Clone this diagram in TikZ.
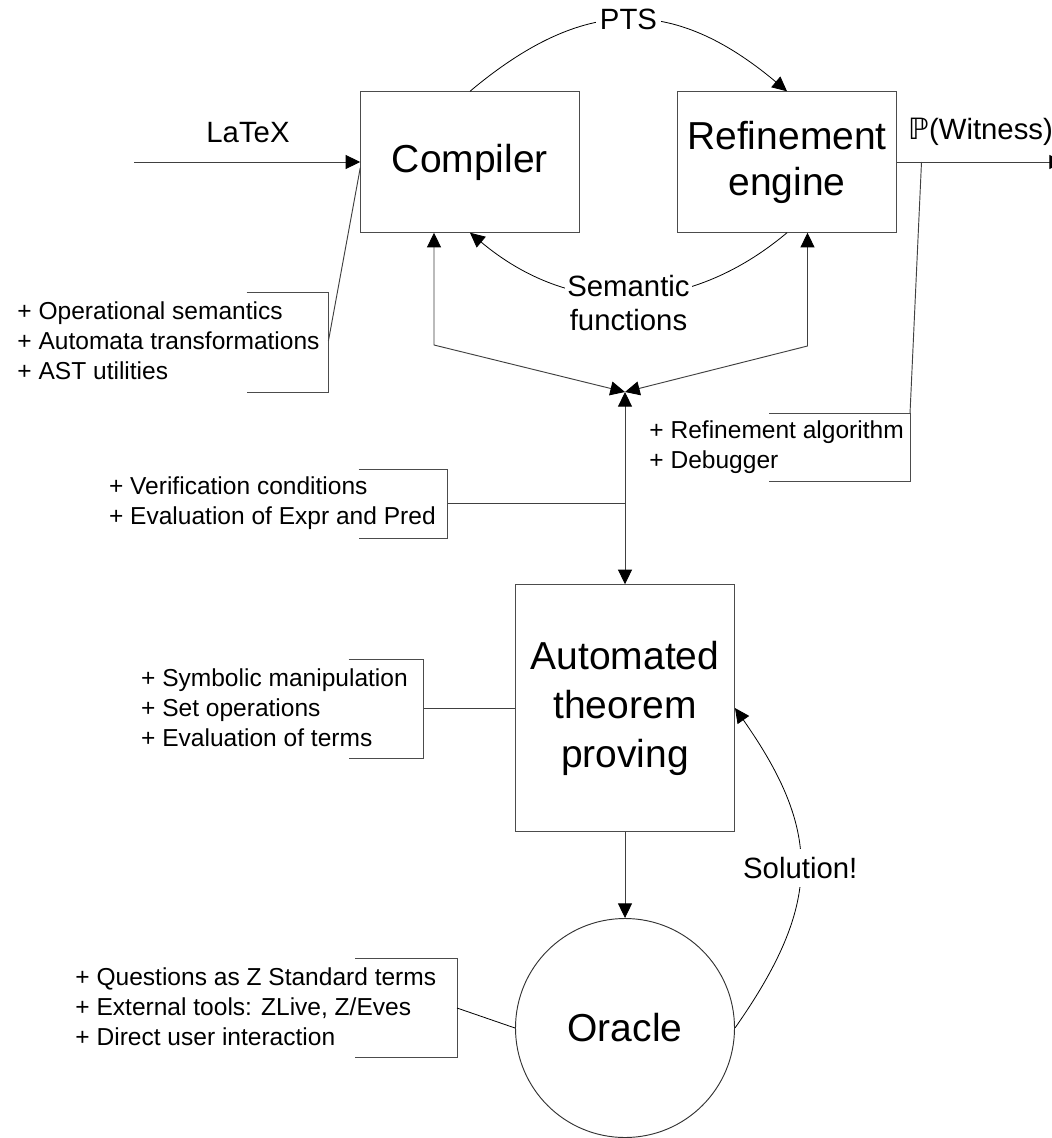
\documentclass[tikz,border=0pt]{standalone}
\usepackage{fontspec}
\setmainfont{Liberation Sans}
\newfontfamily\dejavu{DejaVu Sans}
\usetikzlibrary{arrows.meta}
\begin{document}
\begin{tikzpicture}[x=0.75pt,y=0.75pt,
  line width=0.7pt,
  >={Triangle[length=11pt,width=10.5pt,color=black]},
  bigtext/.style={font=\fontsize{29.25pt}{34.5pt}\selectfont},
  midtext/.style={font=\fontsize{22pt}{26pt}\selectfont},
  smalltext/.style={font=\fontsize{18.4pt}{22.5pt}\selectfont, anchor=west, align=left, inner sep=0pt},
  block/.style={draw=black!70, rectangle, inner sep=0pt, align=center, bigtext},
  conn/.style={draw=black!75},
  curve/.style={draw=black, line width=0.6pt},
  brace/.style={draw=black!70},
  lbl/.style={fill=white, inner sep=3pt, midtext, align=center}]

\path[use as bounding box, fill=white] (0,0) rectangle (1051,-1138);

% main blocks
\node[block, minimum width=163.9pt, minimum height=105.4pt] (comp) at (470,-162) {Compiler};
\node[block, minimum width=163.9pt, minimum height=105.4pt] (ref) at (787,-162) {Refinement\\engine};
\node[block, minimum width=164.25pt, minimum height=184.9pt,
      font=\fontsize{29.25pt}{36.8pt}\selectfont] (atp) at (625,-708) {Automated\\theorem\\proving};
\node[draw=black!80, circle, inner sep=0pt, minimum size=164.25pt, bigtext] (orc) at (625,-1028) {Oracle};

% input and output
\coordinate (inL) at (134,-162);
\coordinate (outR) at (1064,-162);
\node[midtext] (latex) at (248,-133) {LaTeX};
\node[midtext, anchor=west, inner sep=0pt] (wit) at (908,-132) {{\dejavu ℙ}(Witness)};
\draw[conn, ->] (inL) -- (comp.west);
\draw[conn, ->] (ref.east) -- (outR);

% PTS and semantic functions
\draw[curve, ->] (comp.north) .. controls +(113.6,95.3) and +(-113.6,95.3) .. (ref.north)
  node[lbl, midway] (pts) {PTS};
\draw[curve, ->] (ref.south) .. controls +(-100,-84) and +(100,-84) .. (comp.south)
  node[lbl, midway, yshift=-5.5pt, inner sep=2pt] (sem) {Semantic\\functions};

% junction of the three arrows
\coordinate (J) at (625,-392);
\coordinate (cK) at (434,-345);
\coordinate (rK) at (807.5,-346);
\draw[conn, <->] (comp.south -| cK) -- (cK) -- (J);
\draw[conn, <->] (ref.south -| rK) -- (rK) -- (J);
\draw[conn, <->] (J) -- (atp.north);
\draw[conn, ->] (atp.south) -- (orc.north);

% solution feedback
\draw[curve, ->] (orc.east) .. controls +(87,124) and +(87,-124) .. (atp.east)
  node[lbl, midway, inner ysep=6pt] (sol) {Solution!};

% annotation lists with their brackets
\node[smalltext] (opl) at (17,-341) {+ Operational semantics\\+ Automata transformations\\+ AST utilities};
\draw[brace] (246.6,-292.5) -- (328.4,-292.5) -- (328.4,-392) -- (246.6,-392);
\coordinate (opB) at (328.4,-341);
\draw[conn] (opB) -- (comp.183);

\node[smalltext] (rfl) at (649,-447) {+ Refinement algorithm\\+ Debugger};
\draw[brace] (769.4,-413.6) -- (910,-413.6) -- (910,-481) -- (769.4,-481);
\coordinate (rfB) at (910,-413.6);
\coordinate (witJ) at (921.5,-162);
\draw[conn] (rfB) -- (witJ);

\node[smalltext] (vcl) at (108.6,-503) {+ Verification conditions\\+ Evaluation of Expr and Pred};
\draw[brace] (358.6,-469.5) -- (447.7,-469.5) -- (447.7,-538.5) -- (358.6,-538.5);
\coordinate (vcB) at (447.7,-503.6);
\draw[conn] (vcB) -- (vcB -| J);

\node[smalltext] (atl) at (140.7,-708) {+ Symbolic manipulation\\+ Set operations\\+ Evaluation of terms};
\draw[brace] (348.5,-659) -- (423.6,-659) -- (423.6,-758) -- (348.5,-758);
\coordinate (atB) at (423.6,-708);
\draw[conn] (atB) -- (atp.west);

\node[smalltext] (orl) at (75,-1006.5) {+ Questions as Z Standard terms\\+ External tools: ZLive, Z/Eves\\+ Direct user interaction};
\draw[brace] (355,-958) -- (457,-958) -- (457,-1057.3) -- (355,-1057.3);
\coordinate (orB) at (457,-1008);
\draw[curve] (orB) -- (orc.west);
\end{tikzpicture}
\end{document}
